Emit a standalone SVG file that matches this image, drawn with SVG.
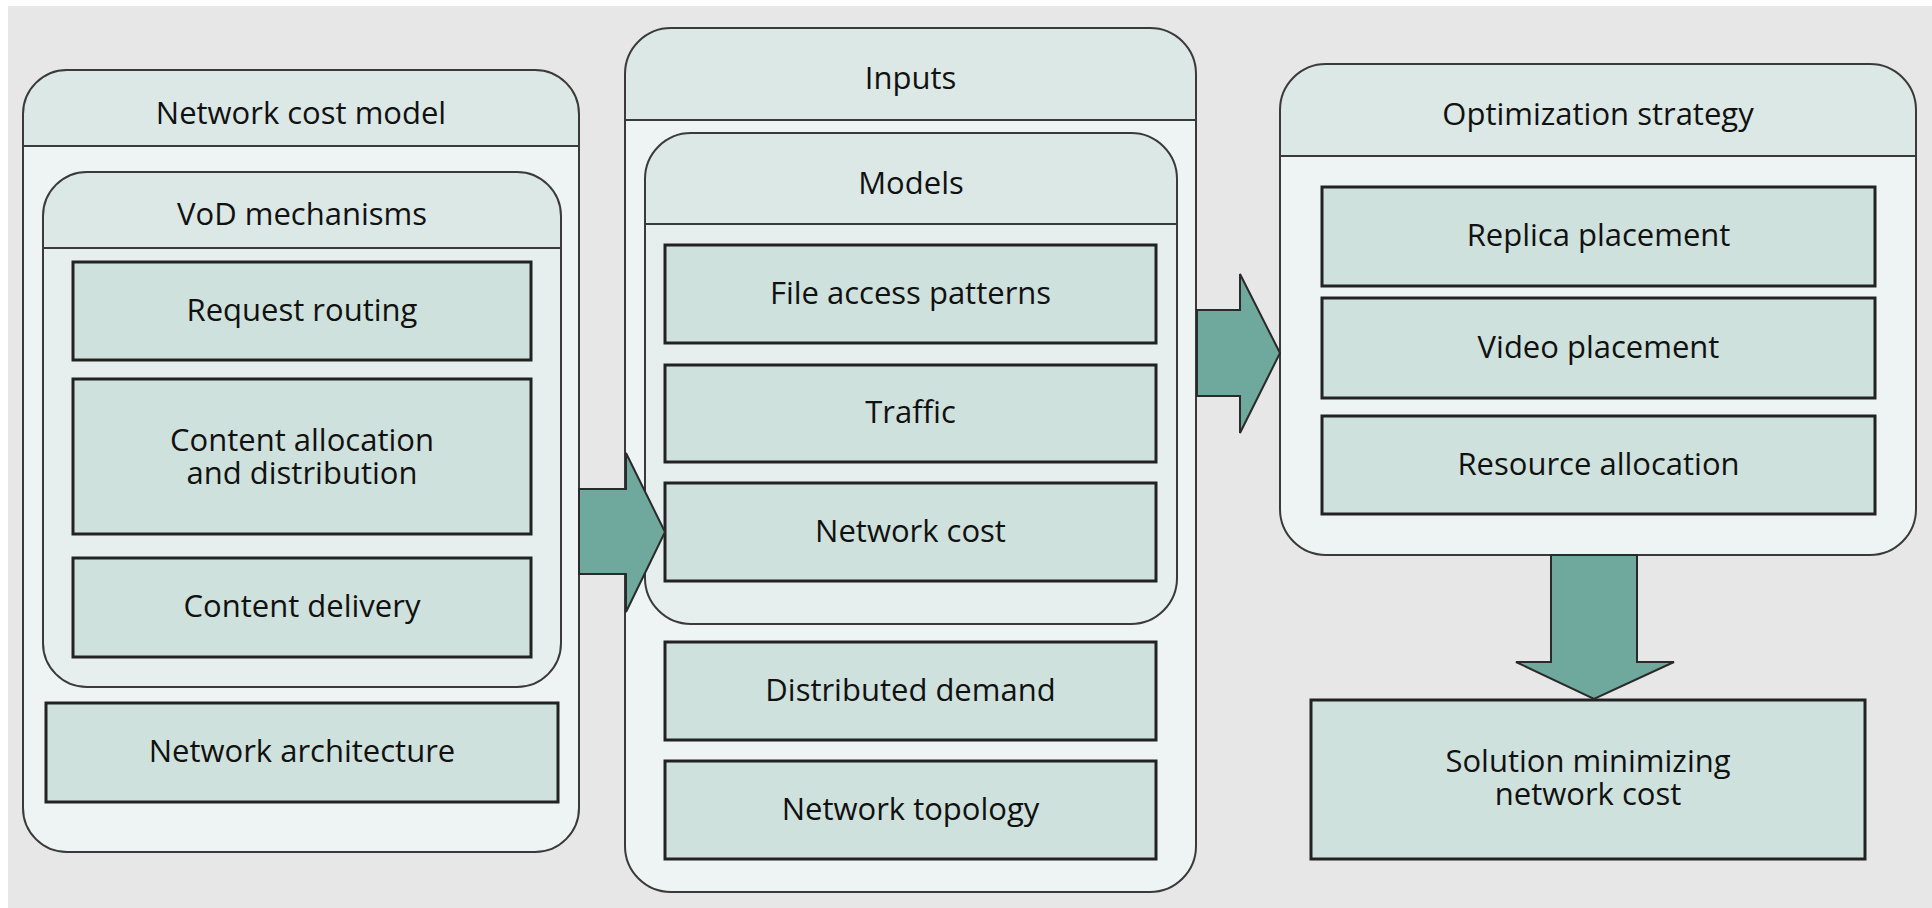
<svg xmlns="http://www.w3.org/2000/svg" width="1932" height="908" viewBox="0 0 1932 908">
<defs>
<style>
.bg{fill:#e7e7e7}
.body{fill:#eef4f3}
.body2{fill:#e6efed}
.hdr{fill:#dce8e5}
.outline{fill:none;stroke:#3a3a3a;stroke-width:2}
.div{stroke:#3a3a3a;stroke-width:2}
.box{fill:#cfe1dc;stroke:#222;stroke-width:3}
.arrow{fill:#6fa89c;stroke:#2a2a2a;stroke-width:2;stroke-linejoin:miter}
text{font-family:"Open Sans","Noto Sans","Liberation Sans",sans-serif;font-size:31px;fill:#111;text-anchor:middle}
</style>
</defs>
<rect x="0" y="0" width="1932" height="908" fill="#ffffff"/>
<rect class="bg" x="8" y="6" width="1924" height="902"/>

<g id="network-cost-model">
<rect class="body" x="23" y="70" width="556" height="782" rx="44" ry="44"/>
<path class="hdr" d="M23,146 V114 A44,44 0 0 1 67,70 H535 A44,44 0 0 1 579,114 V146 Z"/>
<line class="div" x1="23" y1="146" x2="579" y2="146"/>
<rect class="outline" x="23" y="70" width="556" height="782" rx="44" ry="44"/>
<text x="301" y="124">Network cost model</text>
</g>

<g id="vod-mechanisms">
<rect class="body2" x="43" y="172" width="518" height="515" rx="44" ry="44"/>
<path class="hdr" d="M43,248 V216 A44,44 0 0 1 87,172 H517 A44,44 0 0 1 561,216 V248 Z"/>
<line class="div" x1="43" y1="248" x2="561" y2="248"/>
<rect class="outline" x="43" y="172" width="518" height="515" rx="44" ry="44"/>
<text x="302" y="225">VoD mechanisms</text>
</g>

<g id="request-routing">
<rect class="box" x="73" y="262" width="458" height="98"/>
<text x="302" y="321">Request routing</text>
</g>
<g id="content-allocation">
<rect class="box" x="73" y="379" width="458" height="155"/>
<text x="302" y="451">Content allocation<tspan x="302" dy="33">and distribution</tspan></text>
</g>
<g id="content-delivery">
<rect class="box" x="73" y="558" width="458" height="99"/>
<text x="302" y="617">Content delivery</text>
</g>
<g id="network-architecture">
<rect class="box" x="46" y="703" width="512" height="99"/>
<text x="302" y="762">Network architecture</text>
</g>

<g id="inputs">
<rect class="body" x="625" y="28" width="571" height="864" rx="46" ry="46"/>
<path class="hdr" d="M625,120 V74 A46,46 0 0 1 671,28 H1150 A46,46 0 0 1 1196,74 V120 Z"/>
<line class="div" x1="625" y1="120" x2="1196" y2="120"/>
<rect class="outline" x="625" y="28" width="571" height="864" rx="46" ry="46"/>
<text x="910.5" y="89">Inputs</text>
</g>

<g id="models">
<rect class="body2" x="645" y="133" width="532" height="491" rx="46" ry="46"/>
<path class="hdr" d="M645,224 V179 A46,46 0 0 1 691,133 H1131 A46,46 0 0 1 1177,179 V224 Z"/>
<line class="div" x1="645" y1="224" x2="1177" y2="224"/>
<rect class="outline" x="645" y="133" width="532" height="491" rx="46" ry="46"/>
<text x="911" y="194">Models</text>
</g>

<g id="file-access-patterns">
<rect class="box" x="665" y="245" width="491" height="98"/>
<text x="910.5" y="304">File access patterns</text>
</g>
<g id="traffic">
<rect class="box" x="665" y="365" width="491" height="97"/>
<text x="910.5" y="423">Traffic</text>
</g>
<g id="network-cost">
<rect class="box" x="665" y="483" width="491" height="98"/>
<text x="910.5" y="542">Network cost</text>
</g>
<g id="distributed-demand">
<rect class="box" x="665" y="642" width="491" height="98"/>
<text x="910.5" y="701">Distributed demand</text>
</g>
<g id="network-topology">
<rect class="box" x="665" y="761" width="491" height="98"/>
<text x="910.5" y="820">Network topology</text>
</g>

<g id="optimization-strategy">
<rect class="body" x="1280" y="64" width="636" height="491" rx="46" ry="46"/>
<path class="hdr" d="M1280,156 V110 A46,46 0 0 1 1326,64 H1870 A46,46 0 0 1 1916,110 V156 Z"/>
<line class="div" x1="1280" y1="156" x2="1916" y2="156"/>
<rect class="outline" x="1280" y="64" width="636" height="491" rx="46" ry="46"/>
<text x="1598" y="125">Optimization strategy</text>
</g>

<g id="replica-placement">
<rect class="box" x="1322" y="187" width="553" height="99"/>
<text x="1598.5" y="246">Replica placement</text>
</g>
<g id="video-placement">
<rect class="box" x="1322" y="298" width="553" height="100"/>
<text x="1598.5" y="358">Video placement</text>
</g>
<g id="resource-allocation">
<rect class="box" x="1322" y="416" width="553" height="98"/>
<text x="1598.5" y="475">Resource allocation</text>
</g>

<g id="solution">
<rect class="box" x="1311" y="700" width="554" height="159"/>
<text x="1588" y="772">Solution minimizing<tspan x="1588" dy="33">network cost</tspan></text>
</g>

<g id="connectors">
<polygon class="arrow" points="579,489 626,489 626,453 665,532 626,612 626,574 579,574"/>
<polygon class="arrow" points="1197,310 1240,310 1240,274 1280,353 1240,433 1240,396 1197,396"/>
<polygon class="arrow" points="1551,555 1637,555 1637,662 1674,662 1594,699 1516,662 1551,662"/>
</g>
</svg>
